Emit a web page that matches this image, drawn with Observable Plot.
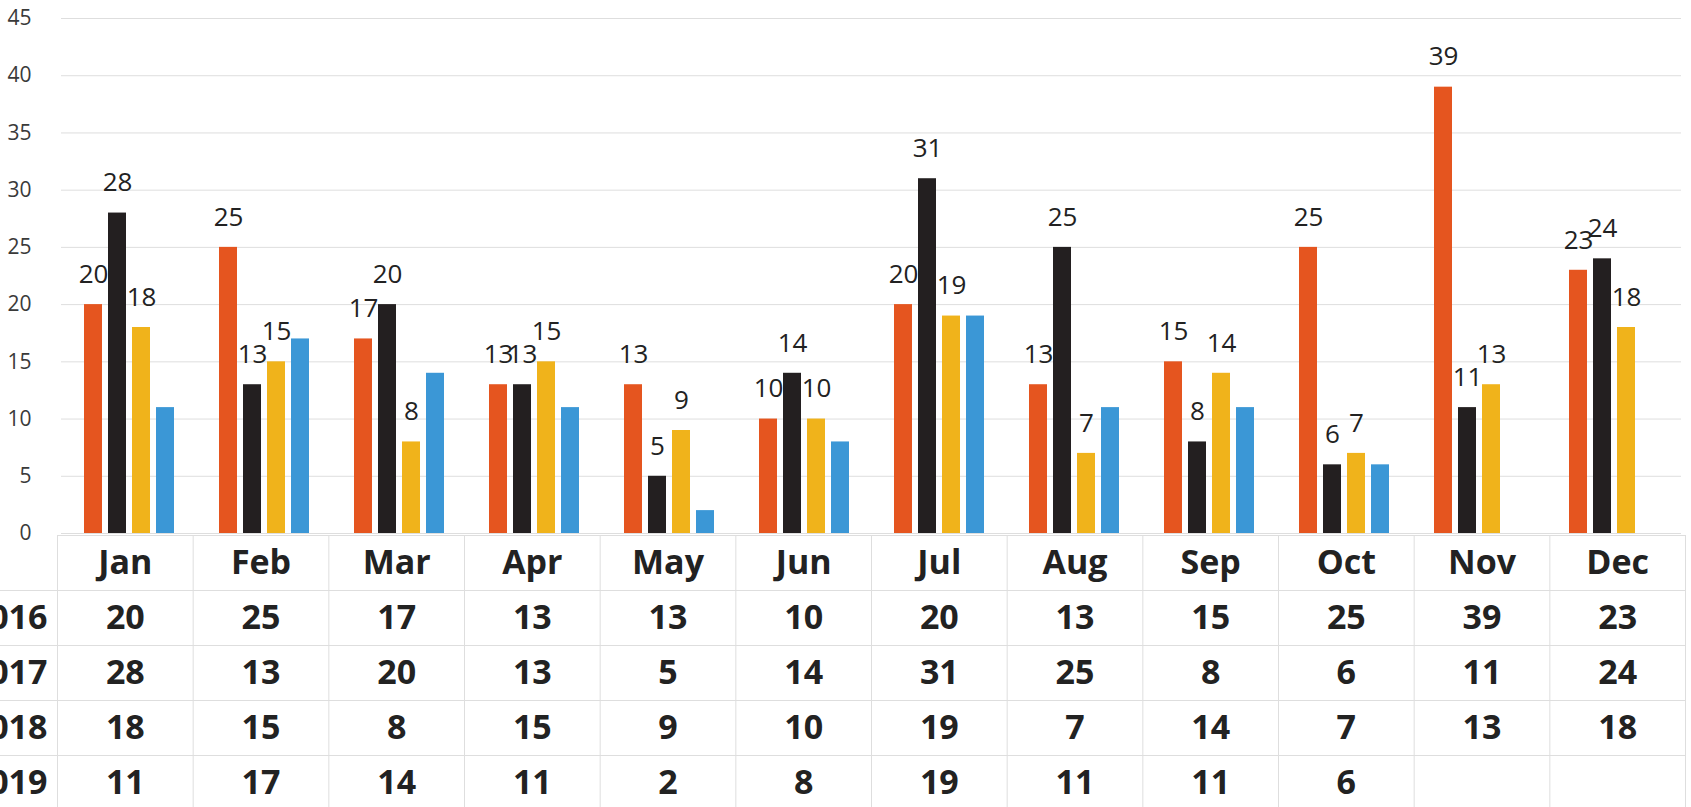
<!DOCTYPE html>
<html>
<head>
<meta charset="utf-8">
<script src="https://cdn.jsdelivr.net/npm/d3@7"></script>
<script src="https://cdn.jsdelivr.net/npm/@observablehq/plot@0.6"></script>
<style>
  html, body { margin: 0; padding: 0; background: #fff; overflow: hidden; }
  #chart svg, #table svg { display: block; }
  #chart svg { overflow: visible; }
</style>
</head>
<body>
<div id="chart"></div>
<div id="table"></div>
<script>
// ---- data ----
const months = ["Jan", "Feb", "Mar", "Apr", "May", "Jun", "Jul", "Aug", "Sep", "Oct", "Nov", "Dec"];
const years = ["2016", "2017", "2018", "2019"];
const v2016 = [20, 25, 17, 13, 13, 10, 20, 13, 15, 25, 39, 23];
const v2017 = [28, 13, 20, 13, 5, 14, 31, 25, 8, 6, 11, 24];
const v2018 = [18, 15, 8, 15, 9, 10, 19, 7, 14, 7, 13, 18];
const v2019 = [11, 17, 14, 11, 2, 8, 19, 11, 11, 6, null, null];
const labelledYears = ["2016", "2017", "2018"];
const yTicks = [0, 5, 10, 15, 20, 25, 30, 35, 40, 45];

// ---- styling ----
const colors = ["#e5551f", "#231f20", "#f0b31b", "#3b97d6"];
const gridColor = "#dedede";
const textColor = "#222";
const font = "'Open Sans', 'Noto Sans', sans-serif";

const series = [v2016, v2017, v2018, v2019];
const data = months.flatMap((m, i) =>
  series.map((s, k) => ({month: m, year: years[k], value: s[i]}))
).filter(d => d.value != null);

const yAxisMarks = Plot.axisY
  ? [Plot.axisY(yTicks, {tickSize: 0, tickPadding: 30, fontSize: 21, fill: "#3a3a3a", label: null})]
  : [];

const chart = Plot.plot({
  width: 1691,
  height: 535,
  marginLeft: 57,
  marginRight: 6,
  marginTop: 18,
  marginBottom: 2,
  style: {fontFamily: font, fontSize: "21px", background: "#fff", color: "#3a3a3a", overflow: "visible"},
  fx: {domain: months, padding: 0, axis: null},
  x: {domain: years, paddingInner: 0.25, paddingOuter: 0.88, axis: null},
  y: Plot.axisY
    ? {domain: [0, 45], axis: null}
    : {domain: [0, 45], ticks: yTicks, tickSize: 0, tickPadding: 30, label: null},
  color: {domain: years, range: colors},
  marks: [
    Plot.ruleY(yTicks, {y: d => d, stroke: gridColor, strokeWidth: 1}),
    Plot.barY(data, {fx: "month", x: "year", y: "value", fill: "year"}),
    Plot.text(data.filter(d => labelledYears.includes(d.year)), {
      fx: "month", x: "year", y: "value",
      text: d => String(d.value),
      dy: -30, fontSize: 26, fill: textColor
    }),
    ...yAxisMarks
  ]
});
document.getElementById("chart").appendChild(chart);

// ---- data table below the chart ----
const leftFrac = 57 / ((1685 - 57) / 12);
const cells = months.flatMap((m, i) =>
  series.map((s, k) => ({col: i, row: k + 1, value: s[i]}))
).filter(d => d.value != null);

const table = Plot.plot({
  width: 1691,
  height: 275,
  marginLeft: 0,
  marginRight: 6,
  marginTop: 0,
  marginBottom: 0,
  style: {fontFamily: font, background: "transparent", color: textColor},
  x: {type: "linear", domain: [-leftFrac, 12], axis: null},
  y: {type: "linear", domain: [0, 5], range: [0, 275], axis: null},
  marks: [
    Plot.ruleX(d3.range(13), {x: d => d, y1: 0, y2: 5, stroke: gridColor}),
    Plot.ruleY([0], {y: d => d, x1: 0, x2: 12, stroke: gridColor}),
    Plot.ruleY([1, 2, 3, 4, 5], {y: d => d, x1: -leftFrac, x2: 12, stroke: gridColor}),
    Plot.text(months, {x: (d, i) => i + 0.5, y: () => 0.5, text: d => d,
      fontSize: 34, fontWeight: "bold", fill: textColor}),
    Plot.text(cells, {x: d => d.col + 0.5, y: d => d.row + 0.5, text: d => String(d.value),
      fontSize: 34, fontWeight: "bold", fill: textColor}),
    Plot.text(years, {x: () => 0, y: (d, i) => i + 1.5, text: d => d, textAnchor: "end", dx: -10,
      fontSize: 34, fontWeight: "bold", fill: textColor})
  ]
});
document.getElementById("table").appendChild(table);
</script>
</body>
</html>
